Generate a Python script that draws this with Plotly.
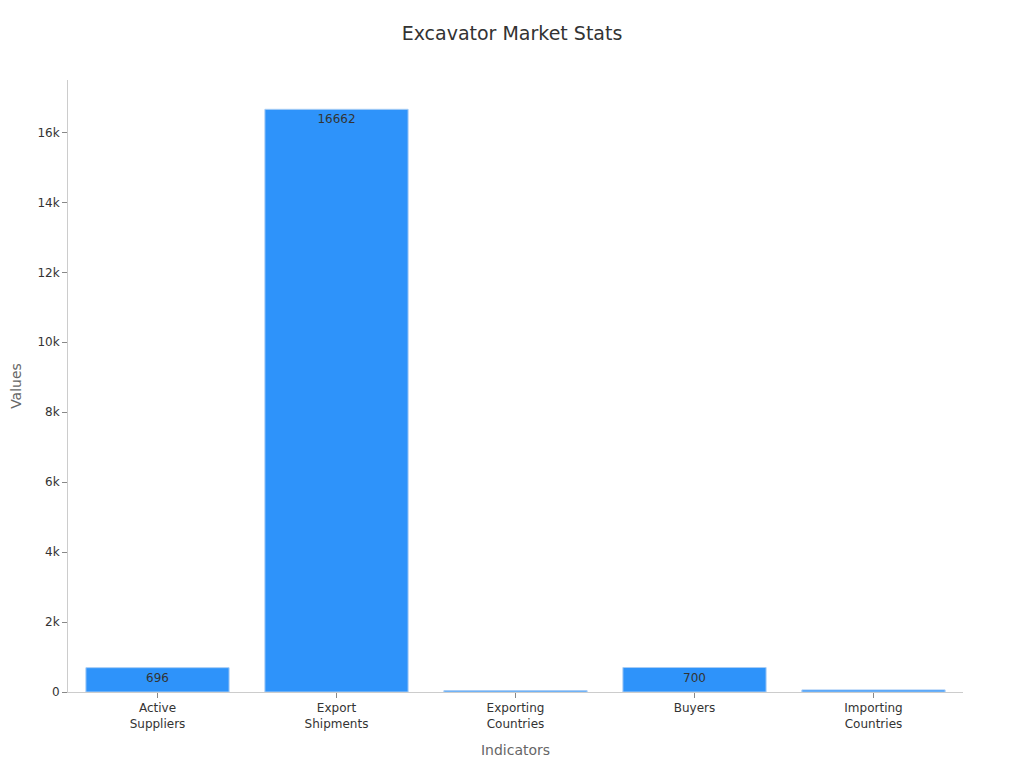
import plotly.graph_objects as go

categories = ["Active<br>Suppliers", "Export<br>Shipments", "Exporting<br>Countries", "Buyers", "Importing<br>Countries"]
values = [696, 16662, 40, 700, 60]

fig = go.Figure(go.Bar(
    x=categories,
    y=values,
    text=[str(v) for v in values],
    textposition="inside",
    insidetextanchor="end",
    textfont=dict(color="#333333", size=12),
    marker=dict(color="#2e93fa", line=dict(color="#a8cdf5", width=1)),
    width=0.8,
))

fig.update_layout(
    width=1008, height=752,
    font=dict(family="DejaVu Sans", size=12, color="#333333"),
    title=dict(text="Excavator Market Stats", x=0.5, xanchor="center", y=0.975, font=dict(size=19, color="#333333")),
    margin=dict(l=60, r=53, t=72, b=68),
    plot_bgcolor="white", paper_bgcolor="white",
    showlegend=False,
    uniformtext=dict(minsize=11, mode="hide"),
    xaxis=dict(title=dict(text="Indicators", font=dict(size=14, color="#666666"), standoff=15),
               automargin=False,
               showline=True, linecolor="#cccccc", ticks="outside", ticklen=5, tickcolor="#888888",
               showgrid=False, tickfont=dict(size=12, color="#333333")),
    yaxis=dict(title=dict(text="Values", font=dict(size=14, color="#666666")),
               automargin=False,
               showline=True, linecolor="#cccccc", ticks="outside", ticklen=5, tickcolor="#888888",
               showgrid=False, zeroline=False, range=[0, 17500], dtick=2000,
               tickformat="~s", tickfont=dict(size=12, color="#333333")),
)

fig.write_html("out.html")
